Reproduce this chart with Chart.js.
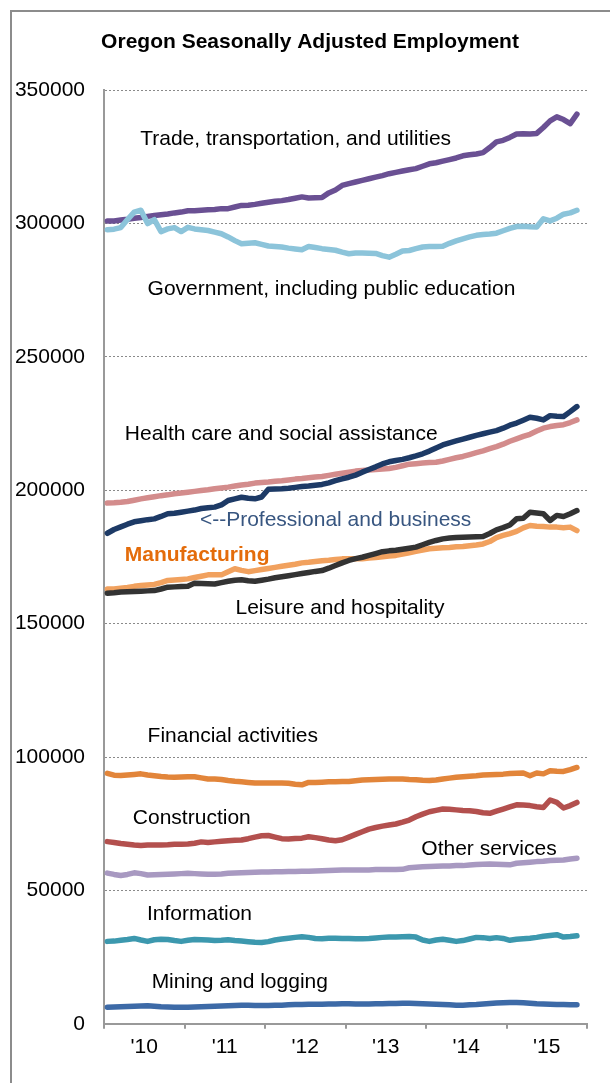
<!DOCTYPE html>
<html>
<head>
<meta charset="utf-8">
<script src="https://cdn.jsdelivr.net/npm/chart.js@4.4.1/dist/chart.umd.min.js"></script>
<style>
  html, body { margin: 0; padding: 0; background: #fff; overflow: hidden; }
  #wrap { position: relative; width: 610px; height: 1083px; overflow: hidden; }
  #frame {
    position: absolute; left: 10px; top: 10px; width: 700px; height: 1200px;
    border: 2px solid #8c8c8c; box-sizing: border-box; pointer-events: none;
  }
  canvas { position: absolute; left: 0; top: 0; }
</style>
</head>
<body>
<div id="wrap">
  <canvas id="chart" width="620" height="1083"></canvas>
  <div id="frame"></div>
</div>
<script>
// monthly, Jan 2010 - Nov 2015 (values in thousands of jobs)
const months = [
  "2010-01","2010-02","2010-03","2010-04","2010-05","2010-06","2010-07","2010-08","2010-09","2010-10","2010-11","2010-12",
  "2011-01","2011-02","2011-03","2011-04","2011-05","2011-06","2011-07","2011-08","2011-09","2011-10","2011-11","2011-12",
  "2012-01","2012-02","2012-03","2012-04","2012-05","2012-06","2012-07","2012-08","2012-09","2012-10","2012-11","2012-12",
  "2013-01","2013-02","2013-03","2013-04","2013-05","2013-06","2013-07","2013-08","2013-09","2013-10","2013-11","2013-12",
  "2014-01","2014-02","2014-03","2014-04","2014-05","2014-06","2014-07","2014-08","2014-09","2014-10","2014-11","2014-12",
  "2015-01","2015-02","2015-03","2015-04","2015-05","2015-06","2015-07","2015-08","2015-09","2015-10","2015-11"
];
const yearLabels = ["'10", "'11", "'12", "'13", "'14", "'15"];
const yTicks = [0, 50000, 100000, 150000, 200000, 250000, 300000, 350000];

const trade = [301.0,301.0,301.3,301.6,302.0,302.3,302.7,303.0,303.3,303.6,304.0,304.3,
  304.8,304.8,305.0,305.2,305.3,305.6,305.6,306.2,306.8,306.9,307.2,307.6,
  308.0,308.4,308.6,309.0,309.5,310.0,309.6,309.7,309.8,311.5,312.6,314.3,
  315.0,315.6,316.2,316.8,317.4,318.0,318.7,319.2,319.7,320.2,320.6,321.5,
  322.4,322.8,323.4,324.0,324.6,325.4,325.8,326.1,326.6,328.5,330.6,331.2,
  332.3,333.6,333.7,333.6,333.8,336.0,338.5,340.0,339.0,337.5,341.0];
const government = [297.7,297.9,298.5,301.5,304.3,305.0,300.0,301.5,297.0,298.0,298.5,297.0,
  298.6,298.0,297.7,297.4,296.8,296.2,295.0,293.6,292.4,292.6,292.8,292.2,
  291.6,291.4,291.2,290.8,290.5,290.2,291.4,291.0,290.6,290.3,290.0,289.3,
  288.7,289.0,289.0,288.9,288.8,288.0,287.4,288.5,289.7,289.9,290.6,291.2,
  291.4,291.4,291.5,292.6,293.5,294.3,295.0,295.6,295.9,296.1,296.4,297.3,
  298.2,298.9,299.0,298.8,298.7,301.8,301.0,302.0,303.5,304.0,305.0];
const health = [195.2,195.3,195.5,195.8,196.3,196.8,197.2,197.6,198.0,198.3,198.7,199.0,
  199.3,199.6,199.9,200.2,200.6,200.9,201.2,201.6,202.0,202.3,202.7,202.9,
  203.1,203.4,203.6,203.9,204.2,204.4,204.7,205.0,205.2,205.6,206.0,206.4,
  206.8,207.2,207.4,207.6,207.8,208.0,208.2,208.6,209.2,209.8,210.0,210.2,
  210.4,210.5,211.0,211.6,212.2,212.7,213.4,214.1,214.8,215.6,216.4,217.3,
  218.4,219.3,220.2,221.0,222.2,223.3,223.9,224.3,224.6,225.4,226.4];
const professional = [183.9,185.3,186.3,187.3,188.2,188.6,189.0,189.3,190.2,191.2,191.4,191.8,
  192.2,192.6,193.2,193.5,193.7,194.5,196.2,196.8,197.4,197.0,196.8,197.5,
  200.4,200.5,200.6,200.8,201.1,201.4,201.6,201.9,202.2,202.8,203.6,204.3,
  204.9,205.7,206.8,207.8,208.8,209.9,210.7,211.2,211.6,212.2,212.9,213.7,
  214.7,215.9,217.0,217.8,218.5,219.2,219.9,220.6,221.2,221.8,222.4,223.3,
  224.4,225.2,226.3,227.4,227.0,226.4,228.0,227.8,227.7,229.5,231.4];
const manufacturing = [163.0,163.0,163.3,163.6,164.0,164.3,164.5,164.7,165.4,166.2,166.4,166.6,
  166.8,167.3,167.8,168.3,168.3,168.3,169.5,170.6,170.0,169.5,169.9,170.3,
  170.7,171.1,171.5,171.9,172.3,172.8,173.0,173.3,173.6,173.8,174.1,174.3,
  174.3,174.3,174.3,174.6,174.8,175.1,175.4,175.6,176.1,176.6,177.1,177.6,
  178.1,178.3,178.5,178.6,178.8,178.9,179.2,179.5,179.9,180.8,182.3,183.1,
  183.8,184.6,185.9,186.8,186.5,186.4,186.2,186.2,186.0,186.2,184.9];
const leisure = [161.4,161.6,161.9,162.0,162.1,162.2,162.3,162.4,163.0,163.7,163.8,163.9,
  164.0,165.2,165.1,165.0,164.9,165.4,165.9,166.3,166.5,166.1,165.9,166.3,
  166.7,167.2,167.6,168.0,168.4,168.8,169.2,169.6,169.9,170.8,171.8,172.8,
  173.7,174.4,174.9,175.6,176.3,177.0,177.3,177.5,177.9,178.3,178.7,179.6,
  180.5,181.2,181.8,182.1,182.3,182.4,182.5,182.6,182.7,183.8,185.2,186.0,
  187.0,189.3,189.5,191.8,191.5,191.2,188.7,190.6,190.2,191.2,192.4];
const financial = [93.9,93.2,93.1,93.3,93.5,93.7,93.3,93.0,92.7,92.5,92.4,92.5,
  92.6,92.6,92.2,91.8,91.8,91.6,91.2,90.9,90.7,90.5,90.3,90.3,
  90.3,90.3,90.3,90.2,89.8,89.6,90.5,90.5,90.6,90.7,90.7,90.8,
  90.8,91.1,91.4,91.5,91.6,91.7,91.8,91.8,91.8,91.6,91.5,91.3,
  91.2,91.4,91.8,92.1,92.4,92.6,92.8,93.0,93.3,93.4,93.5,93.6,
  93.8,93.9,94.0,93.0,94.0,93.7,94.9,94.7,94.6,95.3,96.1];
const construction = [68.3,68.0,67.6,67.3,67.0,66.8,67.0,67.0,67.0,67.1,67.3,67.3,
  67.4,67.7,68.2,68.0,68.2,68.4,68.6,68.8,68.9,69.4,70.0,70.5,
  70.6,70.0,69.4,69.3,69.5,69.6,70.1,69.8,69.4,68.9,68.6,69.0,
  70.0,71.0,72.0,73.0,73.6,74.1,74.5,74.9,75.6,76.4,77.6,78.6,
  79.5,80.0,80.5,80.4,80.2,80.0,79.9,79.6,79.1,78.9,79.7,80.5,
  81.3,82.1,82.0,81.8,81.4,81.1,83.9,83.0,80.9,81.8,83.0];
const otherServices = [56.5,56.0,55.6,56.0,56.6,56.3,55.8,55.9,56.0,56.1,56.2,56.3,
  56.4,56.3,56.2,56.1,56.1,56.2,56.4,56.5,56.6,56.7,56.8,56.9,
  56.9,57.0,57.0,57.1,57.1,57.2,57.2,57.3,57.4,57.5,57.6,57.7,
  57.7,57.7,57.7,57.7,57.8,57.8,57.8,57.8,57.9,58.5,58.7,58.9,
  59.0,59.1,59.2,59.2,59.3,59.3,59.5,59.7,59.8,59.9,59.8,59.7,
  59.6,60.2,60.4,60.6,60.8,60.9,61.2,61.3,61.4,61.8,62.1];
const information = [30.9,31.0,31.3,31.6,32.0,31.4,30.9,31.5,31.7,31.6,31.2,30.9,
  31.3,31.6,31.5,31.4,31.2,31.3,31.5,31.2,31.0,30.8,30.6,30.5,
  30.8,31.4,31.8,32.1,32.4,32.6,32.4,32.0,31.9,32.1,32.1,32.0,
  32.0,31.9,31.9,32.0,32.2,32.4,32.5,32.5,32.6,32.7,32.5,31.4,
  30.9,31.4,31.7,31.3,30.9,31.2,31.8,32.4,32.3,32.0,32.3,32.0,
  31.3,31.7,31.9,32.1,32.4,32.8,33.1,33.4,32.5,32.7,33.0];
const mining = [6.2,6.3,6.4,6.5,6.6,6.7,6.8,6.6,6.4,6.3,6.2,6.2,
  6.2,6.3,6.4,6.5,6.6,6.7,6.8,6.9,7.0,7.0,6.9,6.9,
  6.9,7.0,7.0,7.1,7.2,7.2,7.3,7.3,7.3,7.4,7.4,7.5,
  7.5,7.4,7.4,7.4,7.5,7.5,7.6,7.6,7.7,7.7,7.6,7.5,
  7.4,7.3,7.2,7.1,7.0,7.0,7.1,7.2,7.4,7.6,7.8,7.9,
  8.0,8.0,7.9,7.7,7.5,7.4,7.3,7.2,7.2,7.1,7.1];

// series drawn top-first
const series = [
  { data: mining, color: "#3d6aa7" },
  { data: information, color: "#3c98ae" },
  { data: otherServices, color: "#a899c1" },
  { data: construction, color: "#b3504e" },
  { data: financial, color: "#e2853a" },
  { data: leisure, color: "#333333" },
  { data: manufacturing, color: "#f1a15e" },
  { data: professional, color: "#1d3a66" },
  { data: health, color: "#d38c8c" },
  { data: government, color: "#8cc4da" },
  { data: trade, color: "#6a5093" },
];

// text labels, placed in data coordinates (month index, jobs)
const labels = [
  { text: "Trade, transportation, and utilities", x: 5.4, y: 331600 },
  { text: "Government, including public education", x: 6.5, y: 275400 },
  { text: "Health care and social assistance", x: 3.1, y: 221000 },
  { text: "<--Professional and business", x: 14.3, y: 188700, color: "#385680" },
  { text: "Manufacturing", x: 3.1, y: 175600, color: "#e46c0a", bold: true },
  { text: "Leisure and hospitality", x: 19.6, y: 155700 },
  { text: "Financial activities", x: 6.5, y: 108000 },
  { text: "Construction", x: 4.3, y: 77000 },
  { text: "Other services", x: 47.3, y: 65500 },
  { text: "Information", x: 6.4, y: 41200 },
  { text: "Mining and logging", x: 7.1, y: 15500 },
];

const FONT = "'Liberation Sans', Arial, sans-serif";

const labelPlugin = {
  id: "seriesLabels",
  afterDatasetsDraw(chart) {
    const { ctx, scales } = chart;
    ctx.save();
    ctx.textAlign = "left";
    ctx.textBaseline = "middle";
    labels.forEach((l) => {
      ctx.font = (l.bold ? "bold " : "") + "21px " + FONT;
      ctx.fillStyle = l.color || "#000";
      ctx.fillText(l.text, scales.x.getPixelForValue(l.x), scales.y.getPixelForValue(l.y));
    });
    ctx.restore();
  },
};

const datasets = series.map((s) => ({
  data: s.data.map((v, i) => ({ x: i + 0.5, y: v * 1000 })),
  borderColor: s.color,
  backgroundColor: s.color,
  borderWidth: 5.5,
  pointRadius: 0,
  tension: 0,
  borderCapStyle: "round",
  borderJoinStyle: "round",
}));

new Chart(document.getElementById("chart"), {
  type: "line",
  data: { datasets },
  options: {
    responsive: false,
    animation: false,
    events: [],
    layout: { padding: { left: 0, right: 0, top: 0, bottom: 17 } },
    plugins: {
      legend: { display: false },
      tooltip: { enabled: false },
      title: {
        display: true,
        text: "Oregon Seasonally Adjusted Employment",
        color: "#000",
        font: { family: FONT, size: 21, weight: "bold", lineHeight: 1.2 },
        padding: { top: 30, bottom: 35 },
      },
    },
    scales: {
      x: {
        type: "linear",
        min: 0,
        max: 72,
        afterBuildTicks: (scale) => {
          scale.ticks = [];
          for (let v = 0; v <= 72; v += 6) scale.ticks.push({ value: v });
        },
        ticks: {
          autoSkip: false,
          maxRotation: 0,
          padding: 6,
          color: "#000",
          font: { family: FONT, size: 21 },
          callback: (v) => (v % 12 === 6 ? yearLabels[(v - 6) / 12] : ""),
        },
        grid: {
          drawOnChartArea: false,
          drawTicks: true,
          tickLength: 5,
          lineWidth: 2,
          color: (c) => (c.tick && c.tick.value % 12 === 0 ? "#999" : "rgba(0,0,0,0)"),
        },
        border: { display: true, color: "#999", width: 2 },
      },
      y: {
        min: 0,
        max: 350000,
        afterBuildTicks: (scale) => {
          scale.ticks = yTicks.map((v) => ({ value: v }));
        },
        afterFit: (scale) => {
          scale.width = 104;
        },
        ticks: {
          padding: 19,
          color: "#000",
          font: { family: FONT, size: 21 },
          callback: (v) => String(v),
        },
        grid: {
          drawTicks: false,
          color: "#8a8a8a",
          lineWidth: 1,
        },
        border: { display: true, color: "#999", width: 2, dash: [2, 2] },
      },
      // empty right-hand spacer so the plot ends where the reference does
      spacer: {
        position: "right",
        display: true,
        grid: { display: false },
        ticks: { display: false },
        border: { display: false },
        afterFit: (scale) => {
          scale.width = 33;
        },
      },
    },
  },
  plugins: [labelPlugin],
});
</script>
</body>
</html>
